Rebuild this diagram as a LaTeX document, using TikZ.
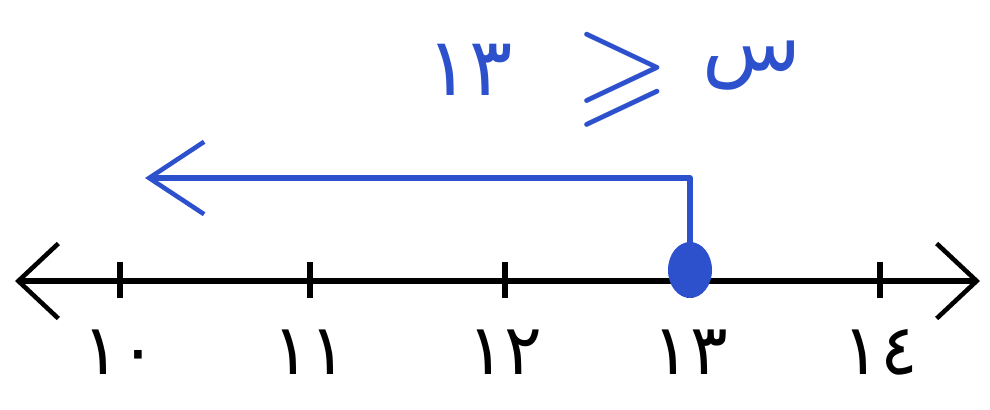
\documentclass[tikz,border=0pt]{standalone}
\usepackage{amssymb}
\usepackage{fontspec}
\TeXXeTstate=1
\newfontfamily\arabicfont[Script=Arabic]{DejaVu Sans}
\usetikzlibrary{arrows.meta}
\definecolor{penblue}{RGB}{45,80,205}
\tikzset{
  axisline/.style={line width=3.6pt, black, {Straight Barb[length=0.8cm,width=1.5cm,line width=2.6pt]}-{Straight Barb[length=0.8cm,width=1.5cm,line width=2.6pt]}},
  tickmark/.style={line width=3pt, black},
  numlabel/.style={font=\arabicfont\fontsize{40}{40}\selectfont, inner sep=0pt},
  toplabel/.style={font=\arabicfont\fontsize{46}{46}\selectfont, inner sep=0pt, text=penblue},
  rayline/.style={line width=3.2pt, penblue, line join=round},
}
\begin{document}
\begin{tikzpicture}[x=0.02cm, y=-0.02cm]
  \useasboundingbox (0,0) rectangle (990,409);

  % Number line
  \coordinate (lend) at (15,281);
  \coordinate (rend) at (980,281);
  \draw[axisline] (lend) -- (rend);

  % Ticks and labels
  \foreach \px/\lab [count=\i] in {120/١٠, 310/١١, 505/١٢, 690/١٣, 880/١٤} {
    \coordinate (tick\i) at (\px,281);
    \draw[tickmark] (\px,262) -- (\px,298);
    \node[numlabel] (lab\i) at (\px,352) {\lab};
  }

  % Closed point at 13
  \coordinate (dot) at (690,270);
  \fill[penblue] (dot) ellipse [x radius=22, y radius=28];

  % Ray to the left
  \coordinate (corner) at (690,178);
  \coordinate (raytip) at (145,178);
  \draw[rayline, -{Straight Barb[length=1.1cm,width=1.45cm,line width=2.6pt]}] (dot) -- (corner) -- (raytip);

  % Inequality
  \node[toplabel] (num) at (470,70) {١٣};
  \node[inner sep=0pt, text=penblue, font=\fontsize{70}{70}\selectfont] (rel) at (622,80) {$\geqslant$};
  \node[toplabel] (var) at (752,66) {\beginR س\endR};
\end{tikzpicture}
\end{document}
